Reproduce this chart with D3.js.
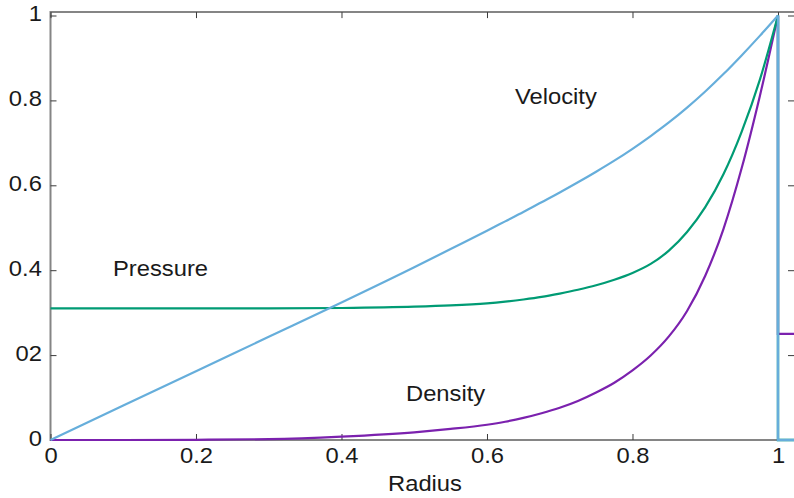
<html>
  <head>
    <meta charset="UTF-8">
    <style>
      body { margin: 0; background: #fff; }
      text { font-family: "Liberation Sans", Arial, sans-serif; fill: #1a1a1a; }
    </style>
  </head>
  <body>
    <script src="https://d3js.org/d3.v7.min.js"></script>
    <script>

// 読み取ったデータ (shock 内側)
var radius   = [0, 0.1, 0.2, 0.3, 0.4, 0.5, 0.55, 0.6, 0.625, 0.65, 0.675, 0.7, 0.725, 0.75, 0.775, 0.8, 0.825, 0.85, 0.875, 0.9, 0.925, 0.95, 0.975, 1.0];
var velocity = [0, 0.081, 0.162, 0.243, 0.324, 0.407, 0.45, 0.493, 0.515, 0.537, 0.560, 0.583, 0.607, 0.632, 0.658, 0.686, 0.716, 0.748, 0.783, 0.821, 0.862, 0.906, 0.952, 1.0];
var pressure = [0.31, 0.31, 0.31, 0.31, 0.311, 0.314, 0.317, 0.322, 0.326, 0.331, 0.337, 0.345, 0.354, 0.3645, 0.3775, 0.3935, 0.4148, 0.446, 0.4898, 0.5485, 0.626, 0.726, 0.8485, 1.0];
var density  = [0, 0, 0.0005, 0.002, 0.008, 0.018, 0.026, 0.036, 0.043, 0.052, 0.063, 0.076, 0.092, 0.112, 0.135, 0.164, 0.199, 0.244, 0.304, 0.387, 0.497, 0.64, 0.81, 1.0];

// shock の外側 (r = 1 で不連続)
var outerRadius   = [1, 1, 1.022];
var outerVelocity = [1, 0, 0];
var outerPressure = [1, 0, 0];
var outerDensity  = [1, 0.25, 0.25];

var xTicks = [0, 0.2, 0.4, 0.6, 0.8, 1];
var xTickLabels = ["0", "0.2", "0.4", "0.6", "0.8", "1"];
var yTicks = [0, 0.2, 0.4, 0.6, 0.8, 1];
var yTickLabels = ["0", "02", "0.4", "0.6", "0.8", "1"];

var labels = [
    { text: "Velocity", x: 515, y: 104 },
    { text: "Pressure", x: 113, y: 276 },
    { text: "Density",  x: 406, y: 401 }
];

var width = 794, height = 498;
var fontSize = 22;
var stretch = "scale(1.08,1)";

var x = d3.scaleLinear().domain([0, 1.022]).range([50.5, 794]);
var y = d3.scaleLinear().domain([0, 1]).range([440, 15.5]);
var yTop = y(1.008);

var svg = d3.select("body").append("svg")
    .attr("width", width).attr("height", height);

// 枠
var axisColor = "#858585";
svg.append("path")
    .attr("d", "M" + x(1.022) + "," + yTop + "H" + x(0) + "V" + y(0) + "H" + x(1.022))
    .attr("fill", "none")
    .attr("stroke", axisColor)
    .attr("stroke-width", 2);

function styleAxis(g, showText) {
    g.select(".domain").remove();
    g.selectAll(".tick line").attr("stroke", "#3a3a3a").attr("stroke-width", 1);
    if (showText) {
        g.selectAll(".tick text")
            .attr("font-size", fontSize)
            .attr("fill", "#1a1a1a")
            .attr("font-family", "Liberation Sans, Arial, sans-serif")
            .attr("transform", stretch);
    } else {
        g.selectAll(".tick text").remove();
    }
}

svg.append("g")
    .attr("transform", "translate(0," + y(0) + ")")
    .call(d3.axisBottom(x).tickValues(xTicks)
          .tickFormat(function(d, i) { return xTickLabels[i]; })
          .tickSize(-6).tickPadding(7))
    .call(styleAxis, true);

svg.append("g")
    .attr("transform", "translate(0," + yTop + ")")
    .call(d3.axisTop(x).tickValues(xTicks).tickSize(-6))
    .call(styleAxis, false);

svg.append("g")
    .attr("transform", "translate(" + x(0) + ",0)")
    .call(d3.axisLeft(y).tickValues(yTicks)
          .tickFormat(function(d, i) { return yTickLabels[i]; })
          .tickSize(-6).tickPadding(8))
    .call(styleAxis, true)
    .selectAll(".tick text").attr("dy", "0.24em");

svg.append("g")
    .attr("transform", "translate(" + x(1.022) + ",0)")
    .call(d3.axisRight(y).tickValues(yTicks).tickSize(-6))
    .call(styleAxis, false);

// 曲線
var smooth = d3.line()
    .x(function(d) { return x(d[0]); })
    .y(function(d) { return y(d[1]); })
    .curve(d3.curveMonotoneX);
var straight = d3.line()
    .x(function(d) { return x(d[0]); })
    .y(function(d) { return y(d[1]); });

var series = [
    { name: "density",  inner: density,  outer: outerDensity,  color: "#7b21ae" },
    { name: "pressure", inner: pressure, outer: outerPressure, color: "#009b74" },
    { name: "velocity", inner: velocity, outer: outerVelocity, color: "#66aedb" }
];

series.forEach(function(s) {
    svg.append("path")
        .datum(d3.zip(radius, s.inner))
        .attr("d", smooth)
        .attr("fill", "none").attr("stroke", s.color).attr("stroke-width", 2.2);
    svg.append("path")
        .datum(d3.zip(outerRadius, s.outer))
        .attr("d", straight)
        .attr("fill", "none").attr("stroke", s.color).attr("stroke-width", 2.4);
});

// ラベル
svg.selectAll(".label").data(labels).enter().append("text")
    .attr("class", "label")
    .attr("font-size", fontSize)
    .attr("transform", function(d) { return "translate(" + d.x + "," + d.y + ") " + stretch; })
    .text(function(d) { return d.text; });

svg.append("text")
    .attr("font-size", fontSize)
    .attr("text-anchor", "middle")
    .attr("transform", "translate(" + 425 + "," + 491 + ") " + stretch)
    .text("Radius");

    </script>
  </body>
</html>
